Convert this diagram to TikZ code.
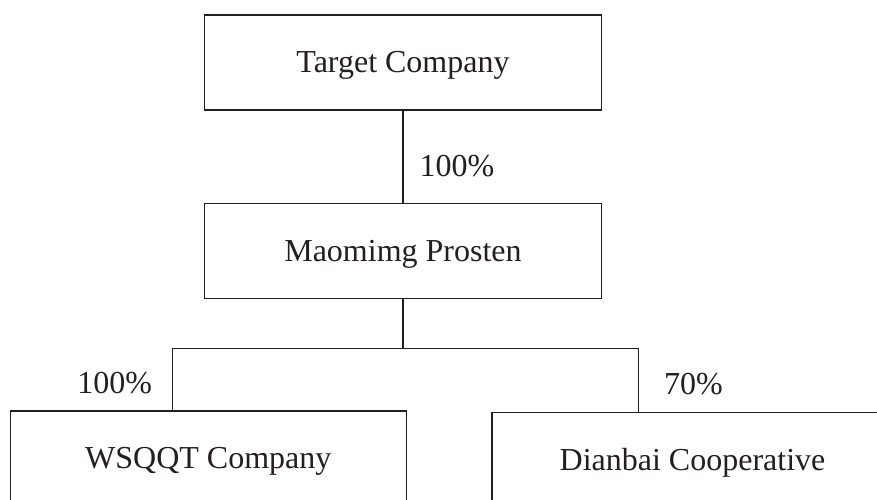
\documentclass[tikz,border=0pt]{standalone}
\usepackage{fontspec}
\setmainfont{Liberation Serif}
\usepackage{tikz}
\usetikzlibrary{calc, positioning}

\definecolor{inkgray}{RGB}{35,31,32}
\tikzset{
    firm/.style={rectangle, draw=inkgray, line width=1.1pt, minimum width=397pt, minimum height=95pt,
        inner sep=0pt, text height=24pt, text depth=4pt, text=inkgray, font=\fontsize{32}{38}\selectfont},
    share/.style={inner sep=0pt, text=inkgray, font=\fontsize{32}{38}\selectfont}
}

\begin{document}
\begin{tikzpicture}[x=1pt, y=1pt]
        \useasboundingbox (0,0) rectangle (877,-499);

        \node[firm](target) at (403,-62.5){Target Company};
        \node[firm](maomimg)[below = 92.5pt of target]{Maomimg Prosten};
        \node[firm, minimum width=396.5pt](wsqqt) at (208.3,-458.5){WSQQT Company};
        \node[firm, minimum width=401pt](dianbai) at (692.5,-460){Dianbai Cooperative};

        \coordinate (split) at ([yshift=-49.5pt]maomimg.south);
        \coordinate (ltap) at ([xshift=163pt]wsqqt.north west);
        \coordinate (rtap) at ([xshift=146.7pt]dianbai.north west);

        \path[draw=inkgray, line width=1.1pt]
        (target) -- (maomimg)
        (maomimg) -- (split)
        (ltap) |- (split) -| (rtap)
        ;

        \node[share](pm) at (457,-166){100\%};
        \node[share](pw) at (114.6,-383.5){100\%};
        \node[share](pd) at (693.5,-384){70\%};
    \end{tikzpicture}
\end{document}
